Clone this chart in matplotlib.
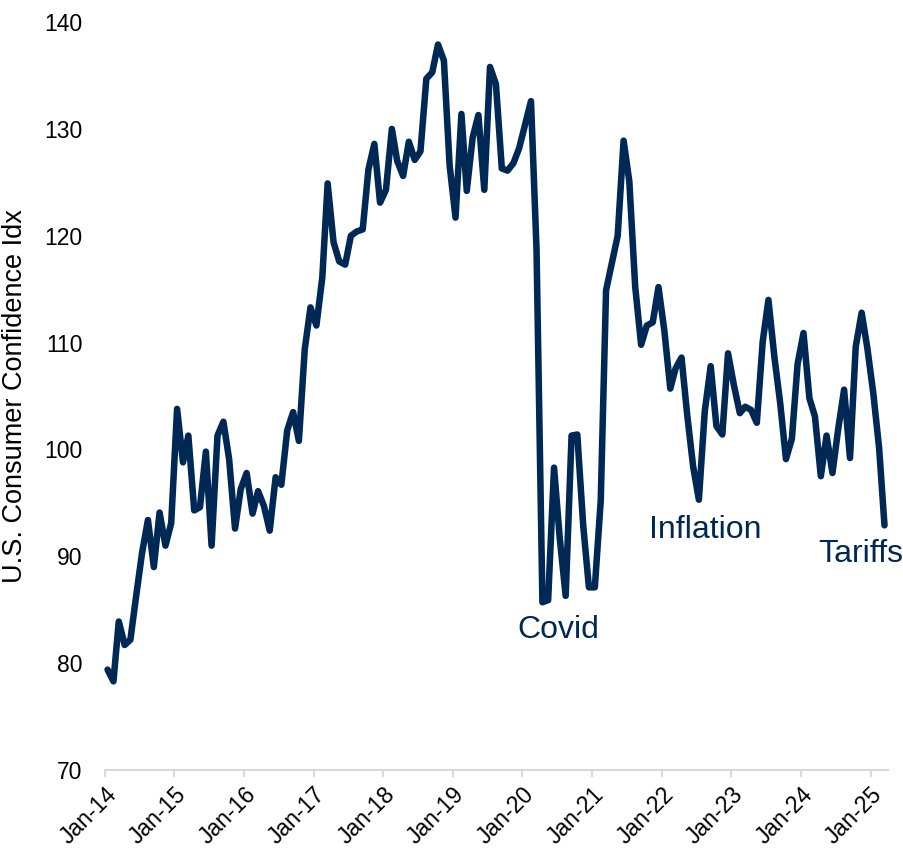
import matplotlib
matplotlib.use("Agg")
import matplotlib.pyplot as plt
import matplotlib.dates as mdates
import pandas as pd

plt.rcParams['font.family'] = ['Liberation Sans', 'DejaVu Sans']

# Consumer confidence index, monthly Jan-2014 .. Mar-2025
v2014 = [79.4, 78.3, 83.9, 81.7, 82.2, 86.4, 90.3, 93.4, 89.0, 94.1, 91.0, 93.1]
v2015 = [103.8, 98.8, 101.3, 94.3, 94.6, 99.8, 91.0, 101.3, 102.6, 99.1, 92.6, 96.3]
v2016 = [97.8, 94.0, 96.1, 94.7, 92.4, 97.4, 96.7, 101.8, 103.5, 100.8, 109.4, 113.3]
v2017 = [111.6, 116.1, 124.9, 119.4, 117.6, 117.3, 120.0, 120.4, 120.6, 126.2, 128.6, 123.1]
v2018 = [124.3, 130.0, 127.0, 125.6, 128.8, 127.1, 127.9, 134.7, 135.3, 137.9, 136.4, 126.6]
v2019 = [121.7, 131.4, 124.2, 129.2, 131.3, 124.3, 135.8, 134.2, 126.3, 126.1, 126.8, 128.2]
v2020 = [130.4, 132.6, 118.8, 85.7, 85.9, 98.3, 91.7, 86.3, 101.3, 101.4, 92.9, 87.1]
v2021 = [87.1, 95.2, 114.9, 117.5, 120.0, 128.9, 125.1, 115.2, 109.8, 111.6, 111.9, 115.2]
v2022 = [111.1, 105.7, 107.6, 108.6, 103.2, 98.4, 95.3, 103.6, 107.8, 102.2, 101.4, 109.0]
v2023 = [106.0, 103.4, 104.0, 103.7, 102.5, 110.1, 114.0, 108.7, 104.3, 99.1, 101.0, 108.0]
v2024 = [110.9, 104.8, 103.1, 97.5, 101.3, 97.8, 101.9, 105.6, 99.2, 109.6, 112.8, 109.5]
v2025 = [105.3, 100.1, 92.9]

values = v2014 + v2015 + v2016 + v2017 + v2018 + v2019 + v2020 + v2021 + v2022 + v2023 + v2024 + v2025
# mid-month dates
dates = pd.date_range("2014-01-01", periods=len(values), freq="MS") + pd.Timedelta(days=14)

notes = ["Covid", "Inflation", "Tariffs"]
note_dates = [pd.Timestamp("2020-07-10"), pd.Timestamp("2022-08-15"), pd.Timestamp("2024-11-10")]
note_vals = [83.1, 92.5, 90.2]

navy = '#002855'

fig = plt.figure(figsize=(9.04, 8.49), dpi=100)
ax = fig.add_axes([0.116, 0.093, 0.866, 0.881])

ax.plot(dates, values, color=navy, lw=4.7, solid_joinstyle='round',
        solid_capstyle='round', clip_on=False)

for t, d, v in zip(notes, note_dates, note_vals):
    ax.text(d, v, t, fontsize=23, color=navy, ha='center', va='center')

ax.set_ylim(70, 140)
ax.set_yticks(range(70, 141, 10))
ax.set_xlim(pd.Timestamp("2014-01-01"), pd.Timestamp("2025-04-01"))
ax.xaxis.set_major_locator(mdates.YearLocator())
ax.xaxis.set_major_formatter(mdates.DateFormatter('%b-%y'))

for s in ['top', 'right', 'left']:
    ax.spines[s].set_visible(False)
ax.spines['bottom'].set_color('#d9d9d9')
ax.spines['bottom'].set_linewidth(1.5)

ax.tick_params(axis='y', length=0, pad=16, labelsize=16.5)
ax.tick_params(axis='x', length=5, width=1.5, color='#d9d9d9', labelsize=16.5, pad=4)
plt.setp(ax.get_xticklabels(), rotation=45, ha='right', rotation_mode='anchor')

ax.set_ylabel("U.S. Consumer Confidence Idx", fontsize=19.5)
ax.yaxis.set_label_coords(-0.098, 0.5)

fig.savefig("out.png", dpi=100)
